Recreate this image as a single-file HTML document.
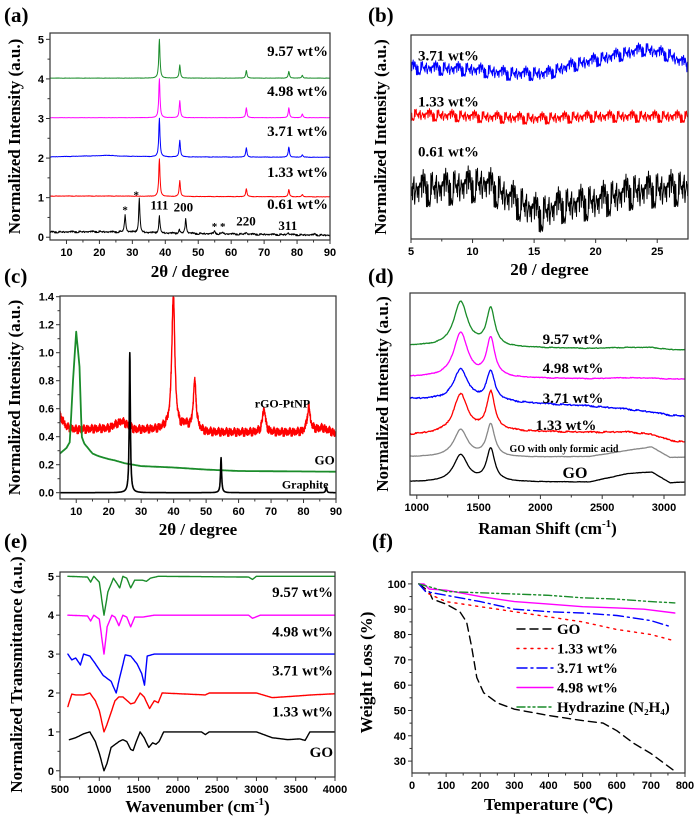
<!DOCTYPE html>
<html><head><meta charset="utf-8"><style>
html,body{margin:0;padding:0;background:#fff}
svg{display:block}
.tk{font-family:"Liberation Sans",sans-serif;font-weight:bold;font-size:11px;fill:#000}
.ttl{font-family:"Liberation Serif",serif;font-weight:bold;font-size:17px;fill:#000}
.lab{font-family:"Liberation Serif",serif;font-weight:bold;fill:#000}
.pl{font-family:"Liberation Serif",serif;font-weight:bold;font-size:21px;fill:#000}
</style></head><body>
<svg id="fig" width="697" height="822" viewBox="0 0 697 822" xmlns="http://www.w3.org/2000/svg"></svg>
<script>
// ---------- shared jitter (typed, deterministic) ----------
const jitter=[0.3,-0.8,0.5,-0.2,0.9,-0.6,0.1,-0.9,0.7,-0.4,0.2,0.8,-0.7,0.4,-0.1,0.6,-0.5,1.0,-0.3,0.0,-0.8,0.5,0.3,-0.6,0.9,-0.2,-0.9,0.4,0.7,-0.5,0.1,-0.4,0.8,-1.0,0.2,0.6,-0.3,0.5,-0.7,0.9,-0.1,0.3,-0.6,0.7,-0.8,0.2,0.4,-0.2,1.0,-0.5,0.0,-0.9,0.6,-0.3,0.8,-0.7,0.5,-0.1,0.3,-0.4,0.9];

// ---------- panel (a) data ----------
const aOffsets=[0,1,2,3,4];
const aColors=["#000000","#ff0000","#0000ff","#ff00ff","#1a8c2a"];
const aLabels=["0.61 wt%","1.33 wt%","3.71 wt%","4.98 wt%","9.57 wt%"];
const aLabelY=[0.86,1.67,2.71,3.72,4.73];
const aPeakPos=[[27.8,32.1,38.2,44.2,46.2,55,57.4,64.5,77.3,85.5],[38.2,44.4,64.6,77.5,81.6],[38.2,44.4,64.6,77.5,81.6],[38.2,44.4,64.6,77.5,81.6],[38.2,44.4,64.6,77.5,81.6]];
const aPeakH=[[0.45,0.85,0.42,0.1,0.38,0.07,0.05,0.05,0.05,0.03],[0.95,0.4,0.2,0.18,0.06],[0.97,0.42,0.23,0.26,0.06],[0.98,0.43,0.25,0.25,0.09],[0.98,0.33,0.19,0.17,0.07]];
const aBaseX=[5,20,23,26,40,90];
const aBase=[[0.13,0.14,0.13,0.13,0.1,0.05],[0.04,0.04,0.04,0.04,0.03,0.02],[0.03,0.06,0.07,0.05,0.03,0.02],[0.02,0.02,0.02,0.02,0.02,0.02],[0.02,0.02,0.02,0.02,0.02,0.02]];
const aNoise=[0.025,0.005,0.005,0.003,0.003];

// ---------- panel (b) data ----------
const bX=[[5,10,13,16,18,21,24,26,27.5],[5,10,15,20,27.5],[5,8,11,13,15.5,17,20,23,27.5]];
const bY=[[8.4,8.3,8.1,8.1,8.5,8.9,9.3,9.0,8.5],[6.1,6.0,5.9,6.0,6.0],[2.4,2.5,2.7,2.0,1.2,1.6,1.8,2.3,2.5]];
const bNoise=[0.35,0.3,0.9];
const bColors=["#0000ff","#ff0000","#000000"];
const bLabels=["3.71 wt%","1.33 wt%","0.61 wt%"];
const bLabelY=[9.0,6.75,4.3];

// ---------- panel (c) data ----------
const cRedX=[5,7,10,20,24,28,35,38,42,43.5,45,50,60,70,80,86,90];
const cRedY=[0.55,0.47,0.45,0.46,0.51,0.45,0.45,0.46,0.45,0.48,0.45,0.43,0.43,0.43,0.43,0.46,0.42];
const cRedPeakPos=[39.9,46.5,67.8,81.6];
const cRedPeakH=[0.97,0.34,0.17,0.18];
const cGreenX=[5,7,8,9,10,11,11.7,12.5,15,17,20,22,25,30,40,50,60,90];
const cGreenY=[0.28,0.32,0.36,0.8,1.15,0.9,0.4,0.35,0.28,0.26,0.24,0.23,0.21,0.19,0.18,0.165,0.155,0.15];
const cBlackPeakPos=[26.5,54.6,87];
const cBlackPeakH=[1.0,0.25,0.04];

// ---------- panel (d) data ----------
const dBaseX=[945,1700,2400,2700,2900,3050,3170];
const dBase=[[0.64,0.64,0.64,1.05,1.14,0.6,0.64],[1.88,1.85,1.9,2.2,2.38,1.85,1.88],[2.97,3.15,3.1,3.12,3.0,2.7,2.62],[4.75,4.6,4.4,4.25,4.1,3.95,3.9],[5.84,5.79,5.75,5.8,5.78,5.74,5.74],[7.38,7.3,7.25,7.3,7.3,7.2,7.18]];
const dD=[1.34,1.35,1.9,1.55,2.2,2.2];
const dG=[1.6,1.6,1.9,1.45,1.9,1.85];
const dColors=["#000000","#888888","#ff0000","#0000ff","#ff00ff","#1a8c2a"];
const dNoise=[0.01,0.01,0.04,0.04,0.02,0.02];

// ---------- panel (e) data ----------
const eX=[[620,700,800,880,950,1000,1060,1100,1150,1250,1300,1350,1400,1430,1480,1520,1570,1630,1680,1720,1760,1820,2300,2350,2400,3000,3200,3400,3550,3620,3680,4000],
[600,650,700,800,880,950,1000,1060,1100,1200,1250,1300,1400,1450,1520,1570,1640,1700,1750,1800,2350,2400,3000,3200,3500,3700,4000],
[600,650,700,760,800,880,950,1050,1150,1215,1260,1330,1400,1480,1540,1575,1610,1700,4000],
[600,850,890,930,1000,1060,1100,1160,1200,1250,1300,1350,1400,1450,1550,1700,2900,2950,3050,4000],
[600,850,890,930,1000,1060,1110,1180,1230,1260,1300,1350,1400,1450,1550,1600,1650,1750,2900,2950,3000,4000]];
const eY=[[0.8,0.85,0.95,1.0,0.75,0.45,0.0,0.2,0.6,0.75,0.8,0.75,0.55,0.52,0.8,1.0,0.85,0.6,0.72,0.68,0.75,1.0,1.0,0.93,1.0,1.0,0.85,0.8,0.82,0.78,1.0,1.0],
[1.65,1.97,1.95,1.95,2.0,1.8,1.55,1.0,1.2,1.8,1.9,1.9,1.72,1.75,2.0,1.9,1.6,1.8,1.75,2.0,1.95,2.0,2.0,1.88,1.92,1.95,1.98],
[3.0,2.85,2.9,2.72,3.0,2.95,2.75,2.45,2.3,2.0,2.4,2.98,2.95,2.75,2.5,2.2,2.95,3.0,3.0],
[4.0,3.98,3.85,4.0,3.9,3.0,3.7,4.0,3.95,3.73,4.0,3.95,3.7,3.95,3.95,4.0,4.0,3.92,4.0,4.0],
[5.0,4.98,4.85,5.0,4.85,4.0,4.6,4.95,4.8,4.7,5.0,4.95,4.7,4.9,4.9,4.87,4.95,5.0,4.98,4.92,5.0,5.0]];
const eColors=["#000000","#ff0000","#0000ff","#ff00ff","#1a8c2a"];
const eLabels=["GO","1.33 wt%","3.71 wt%","4.98 wt%","9.57 wt%"];
const eLabelY=[0.51,1.55,2.6,3.6,4.62];

// ---------- panel (f) data ----------
const fX=[[20,50,60,100,140,160,175,190,210,250,300,400,500,560,600,650,700,770],
[20,50,100,200,300,400,500,600,700,770],
[20,40,60,100,200,300,400,500,600,700,760],
[20,35,50,100,200,300,400,500,600,680,770],
[20,100,200,300,400,500,600,700,770]];
const fY=[[100,97,94,92,89,85,75,63,57,53,50.5,48,46,45,42,37,33,26],
[100,96,93,91,89,87,85,82,80,77.5],
[100,97,96.5,95.5,93,90,89,88.5,87.5,85.5,83],
[100,100,98,97.5,95,93,92,91,90.5,90,88.5],
[100,97,96.5,96,95.5,94.5,94,93,92.5]];
const fColors=["#000000","#ff0000","#0000ff","#ff00ff","#1a8c2a"];
const fDash=["8,5","2,5","10,4,2,4","","8,3,2,3,2,3"];
const fLabels=["GO","1.33 wt%","3.71 wt%","4.98 wt%","Hydrazine (N\u2082H\u2084)"];

// ================= drawing =================
const NS="http://www.w3.org/2000/svg";
const svg=document.getElementById('fig');
function el(tag,attrs,parent){const e=document.createElementNS(NS,tag);for(const k in attrs)e.setAttribute(k,attrs[k]);(parent||svg).appendChild(e);return e;}
function lin(d0,d1,r0,r1){return v=>r0+(v-d0)*(r1-r0)/(d1-d0);}
function interp(xs,ys,x){if(x<=xs[0])return ys[0];for(let i=1;i<xs.length;i++){if(x<=xs[i]){const t=(x-xs[i-1])/(xs[i]-xs[i-1]);return ys[i-1]+t*(ys[i]-ys[i-1]);}}return ys[ys.length-1];}
function lor(x,c,w){const d=(x-c)/w;return 1/(1+d*d);}
const JN=jitter.length;
function jit(k){return 0.6*jitter[(k*13)%JN]+0.6*jitter[(k*k+3*k)%JN];}
let clipN=0;
function panel(p){
  const g=el('g',{});
  
  
  const sx=lin(p.xd[0],p.xd[1],p.L,p.R), sy=lin(p.yd[0],p.yd[1],p.B,p.T);
  const id='clip'+(clipN++);
  const cp=el('clipPath',{id:id},g);el('rect',{x:p.L,y:p.T,width:p.R-p.L,height:p.B-p.T},cp);
  const plot=el('g',{'clip-path':'url(#'+id+')'},g);
  const frame=el('rect',{x:p.L,y:p.T,width:p.R-p.L,height:p.B-p.T,fill:'none',stroke:'#333','stroke-width':1.2},g);
  
  
  const xa=el('g',{},g);
  
  
  for(let v=p.xt[0];v<=p.xt[1]+1e-9;v+=p.xt[2]){
    const x=sx(v);el('line',{x1:x,x2:x,y1:p.B,y2:p.B+4,stroke:'#333'},xa);
    const t=el('text',{x:x,y:p.B+16,'text-anchor':'middle',class:'tk'},xa);t.textContent=p.xfmt?p.xfmt(v):v;
    const m=v+p.xt[2]/2;if(m<p.xd[1]){const xm=sx(m);el('line',{x1:xm,x2:xm,y1:p.B,y2:p.B+2.5,stroke:'#333'},xa);}
  }
  if(p.yt){const ya=el('g',{},g);
    
    
    for(let v=p.yt[0];v<=p.yt[1]+1e-9;v+=p.yt[2]){const y=sy(v);el('line',{x1:p.L-4,x2:p.L,y1:y,y2:y,stroke:'#333'},ya);
      const t=el('text',{x:p.L-6,y:y+4,'text-anchor':'end',class:'tk'},ya);t.textContent=p.yfmt?p.yfmt(v):v;
      const m=v+p.yt[2]/2;if(m<p.yd[1]){const ym=sy(m);el('line',{x1:p.L-2.5,x2:p.L,y1:ym,y2:ym,stroke:'#333'},ya);}}}
  const xt=el('text',{x:(p.L+p.R)/2,y:p.xtY,'text-anchor':'middle',class:'ttl'},g);xt.innerHTML=p.xtitle;
  
  
  const yt=el('text',{x:p.ytX,y:(p.T+p.B)/2,'text-anchor':'middle',class:'ttl',transform:'rotate(-90 '+p.ytX+' '+(p.T+p.B)/2+')'},g);yt.textContent=p.ytitle;
  
  
  const pl=el('text',{x:p.plX,y:p.plY,class:'pl'},g);pl.textContent=p.letter;
  
  
  return {g,plot,sx,sy};
}
function path(parent,pts,sx,sy,color,w,dash,name){
  let d='';pts.forEach((q,i)=>{d+=(i?'L':'M')+sx(q[0]).toFixed(1)+' '+sy(q[1]).toFixed(1);});
  const a={d:d,fill:'none',stroke:color,'stroke-width':w,'stroke-linejoin':'round','stroke-linecap':'round'};if(dash)a['stroke-dasharray']=dash;
  const e=el('path',a,parent);
  
  
  return e;
}
function label(parent,x,y,txt,cls,anchor,name,size){
  const t=el('text',{x:x,y:y,class:cls,'text-anchor':anchor||'start'},parent);t.textContent=txt;t.style.fontSize=(size||15)+'px';
  
  
  return t;
}

// ---- (a)
{const P=panel({name:'panel-a-xrd',L:50,R:330,T:33,B:240,xd:[5,90],yd:[-0.07,5.16],xt:[10,90,10],yt:[0,5,1],xtitle:'2θ / degree',xtY:277,ytitle:'Normalized Intensity (a.u.)',ytX:20,letter:'(a)',plX:4,plY:22});
 aOffsets.forEach((off,s)=>{const pts=[];let k=s*11;
  for(let x=5;x<=90;x+=0.1){let y=off+interp(aBaseX,aBase[s],x)+aNoise[s]*jit(k++);
   aPeakPos[s].forEach((c,i)=>{y+=aPeakH[s][i]*lor(x,c,0.22);});pts.push([x,y]);}
  path(P.plot,pts,P.sx,P.sy,aColors[s],1,null,'series-'+aLabels[s].replace(/[ %.]/g,''));
  label(P.g,328,P.sy(aLabelY[s])+6,aLabels[s],'lab','end','series-label-'+s,15);});
 [['*',27.8,0.6],['*',31.2,0.98],['111',38.2,0.7],['200',45.5,0.65],['* *',56.2,0.18],['220',64.5,0.3],['311',77.2,0.18]].forEach((a,i)=>{label(P.g,P.sx(a[1]),P.sy(a[2]),a[0],'lab','middle','peak-annotation-'+i,a[0]==='*'||a[0]==='* *'?11:13);});
}
// ---- (b)
{const P=panel({name:'panel-b-xrd-low-angle',L:411,R:688,T:35,B:239,xd:[5,27.5],yd:[0,10],xt:[5,25,5],xtitle:'2θ / degree',xtY:275,ytitle:'Normalized Intensity (a.u.)',ytX:386,letter:'(b)',plX:368,plY:22});
 bX.forEach((xs,s)=>{const pts=[];let k=s*17;
  for(let x=5;x<=27.5;x+=0.03){pts.push([x,interp(xs,bY[s],x)+bNoise[s]*jit(k++)]);}
  path(P.plot,pts,P.sx,P.sy,bColors[s],1,null,'series-'+bLabels[s].replace(/[ %.]/g,''));
  label(P.g,418,P.sy(bLabelY[s])+5,bLabels[s],'lab','start','series-label-'+s,15);});
}
// ---- (c)
{const P=panel({name:'panel-c-xrd-comparison',L:60,R:336,T:296,B:499,xd:[5,90],yd:[-0.045,1.405],xt:[10,90,10],yt:[0,1.4,0.2],yfmt:v=>v.toFixed(1),xtitle:'2θ / degree',xtY:535,ytitle:'Normalized Intensity (a.u.)',ytX:20,letter:'(c)',plX:4,plY:283});
 let pts=[],k=5;
 for(let x=5;x<=90;x+=0.04){let y=interp(cRedX,cRedY,x)+0.03*jit(k++);cRedPeakPos.forEach((c,i)=>{y+=cRedPeakH[i]*lor(x,c,0.55);});pts.push([x,y]);}
 path(P.plot,pts,P.sx,P.sy,'#ff0000',1.4,null,'series-rgo-ptnp');
 pts=[];for(let x=5;x<=90;x+=0.25)pts.push([x,interp(cGreenX,cGreenY,x)]);
 path(P.plot,pts,P.sx,P.sy,'#1a8c2a',1.8,null,'series-go');
 pts=[];for(let x=5;x<=90;x+=0.05){let y=0;cBlackPeakPos.forEach((c,i)=>{y+=cBlackPeakH[i]*lor(x,c,0.2);});pts.push([x,y]);}
 path(P.plot,pts,P.sx,P.sy,'#000000',1.6,null,'series-graphite');
 label(P.g,P.sx(73.5),P.sy(0.61),'rGO-PtNP','lab','middle','label-rgo-ptnp',12);
 label(P.g,P.sx(86.5),P.sy(0.2),'GO','lab','middle','label-go',13);
 label(P.g,P.sx(80.5),P.sy(0.03),'Graphite','lab','middle','label-graphite',12);
}
// ---- (d)
{const P=panel({name:'panel-d-raman',L:410,R:685,T:293,B:495,xd:[945,3170],yd:[0,10],xt:[1000,3000,500],xtitle:'Raman Shift (cm<tspan font-size="11" dy="-7">-1</tspan><tspan dy="7">)</tspan>',xtY:534,ytitle:'Normalized Intensity (a.u.)',ytX:388,letter:'(d)',plX:368,plY:283});
 const names=['go','go-formic-acid','1.33wt','3.71wt','4.98wt','9.57wt'];
 dBase.forEach((b,s)=>{const pts=[];let k=s*9;
  for(let x=945;x<=3170;x+=5){let y=interp(dBaseX,b,x)+dD[s]*lor(x,1355,68)+dG[s]*lor(x,1598,40)+dNoise[s]*jit(k++);pts.push([x,y]);}
  path(P.plot,pts,P.sx,P.sy,dColors[s],1.3,null,'series-'+names[s]);});
 [['9.57 wt%',573,344,15],['4.98 wt%',573,373,15],['3.71 wt%',573,403,15],['1.33 wt%',566,430,15],['GO with only formic acid',564,452,10],['GO',575,478,16]].forEach((a,i)=>label(P.g,a[1],a[2],a[0],'lab','middle','series-label-'+i,a[3]));
}
// ---- (e)
{const P=panel({name:'panel-e-ftir',L:60,R:335,T:572,B:777,xd:[500,4000],yd:[-0.16,5.11],xt:[500,4000,500],yt:[0,5,1],xtitle:'Wavenumber (cm<tspan font-size="11" dy="-7">-1</tspan><tspan dy="7">)</tspan>',xtY:812,ytitle:'Normalized Transmittance (a.u.)',ytX:22,letter:'(e)',plX:4,plY:548});
 eX.forEach((xs,s)=>{const pts=[];for(let x=xs[0];x<=4000;x+=5)pts.push([x,interp(xs,eY[s],x)]);
  path(P.plot,pts,P.sx,P.sy,eColors[s],1.4,null,'series-'+eLabels[s].replace(/[ %.]/g,''));
  label(P.g,333,P.sy(eLabelY[s])+6,eLabels[s],'lab','end','series-label-'+s,15);});
}
// ---- (f)
{const P=panel({name:'panel-f-tga',L:412,R:685,T:572,B:773,xd:[0,800],yd:[25.3,104.7],xt:[0,800,100],yt:[30,100,10],xtitle:'Temperature (℃)',xtY:810,ytitle:'Weight Loss (%)',ytX:372,letter:'(f)',plX:372,plY:548});
 fX.forEach((xs,s)=>{const pts=xs.map((x,i)=>[x,fY[s][i]]);path(P.plot,pts,P.sx,P.sy,fColors[s],1.4,fDash[s],'series-'+['go','1.33wt','3.71wt','4.98wt','hydrazine'][s]);});
 const lg=el('g',{},P.g);
 
 
 fLabels.forEach((t,i)=>{const y=629+i*19.5;
  const a={x1:517,x2:553,y1:y,y2:y,stroke:fColors[i],'stroke-width':1.4,'stroke-linecap':'round'};if(fDash[i])a['stroke-dasharray']=fDash[i];
  const ln=el('line',a,lg);
  
  
  label(lg,557,y+5,t,'lab','start','legend-entry',15);});
}
</script>
</body></html>
